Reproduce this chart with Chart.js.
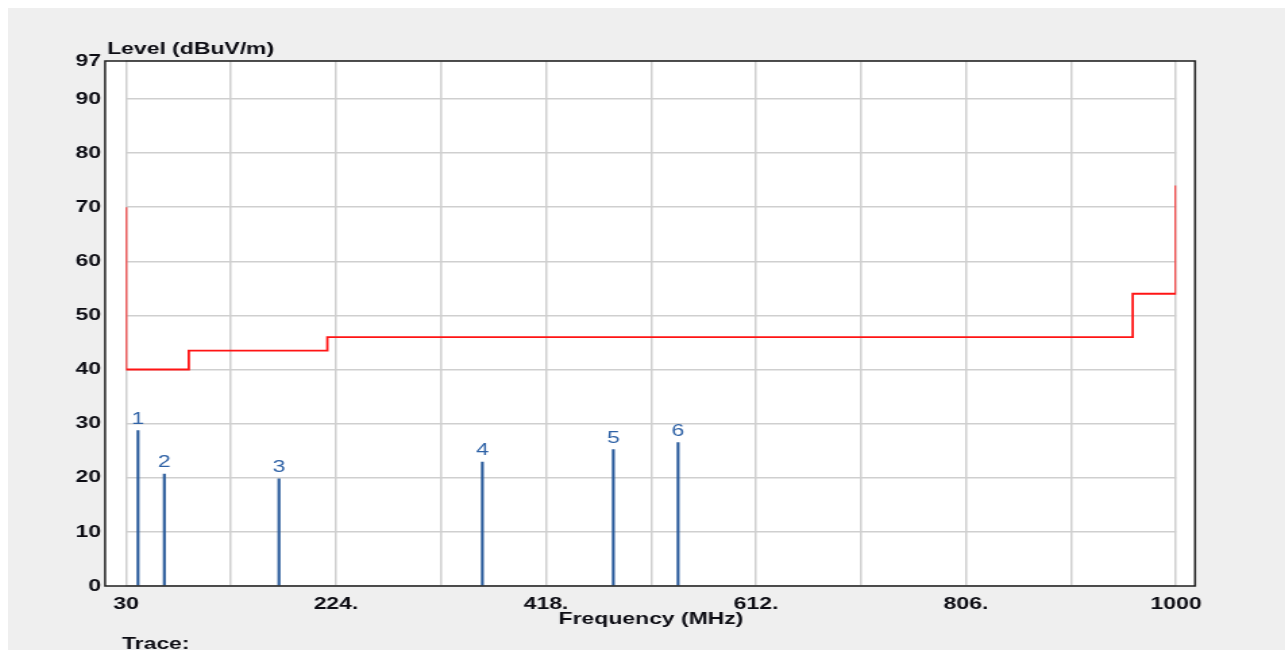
<!DOCTYPE html>
<html>
<head>
<meta charset="utf-8">
<script src="https://cdn.jsdelivr.net/npm/chart.js@4/dist/chart.umd.min.js"></script>
<style>
  html, body { margin: 0; padding: 0; background: #ffffff; }
  #wrap { position: absolute; left: 8px; top: 8px; width: 1277px; height: 642px; background: #efefef; overflow: hidden; }
  #c { position: absolute; left: 0; top: 0; transform: scaleX(1.35); transform-origin: 0 0; }
</style>
</head>
<body>
<div id="wrap"><canvas id="c" width="946" height="642" style="width:946px;height:642px"></canvas></div>
<script>
// ---- data ----
const limitFreq  = [30, 30, 88, 88, 216, 216, 960, 960, 1000, 1000];
const limitLevel = [70, 40, 40, 43.5, 43.5, 46, 46, 54, 54, 74];
const peakFreq   = [41.1, 65.4, 171.3, 359.2, 480.2, 540.0];
const peakLevel  = [28.7, 20.7, 19.8, 22.9, 25.2, 26.5];
const peakLabels = ['1', '2', '3', '4', '5', '6'];
const xTickValues = [30, 127, 224, 321, 418, 515, 612, 709, 806, 903, 1000];
const yTickValues = [0, 10, 20, 30, 40, 50, 60, 70, 80, 90, 97];
const yTitle = 'Level (dBuV/m)';
const xTitle = 'Frequency (MHz)';
const footText = 'Trace:';

const FONT = "'Liberation Sans', Arial, sans-serif";
const TXT = '#0d0d14';

const framePlugin = {
  id: 'frame',
  beforeDraw(chart) {
    const {ctx, chartArea: a} = chart;
    ctx.save();
    ctx.fillStyle = '#ffffff';
    ctx.fillRect(a.left - 15.5, a.top, (a.right + 14.1) - (a.left - 15.5), a.bottom - a.top);
    ctx.restore();
  },
  afterDraw(chart) {
    const {ctx, chartArea: a, scales} = chart;
    ctx.save();
    ctx.strokeStyle = '#1e1e1e';
    ctx.lineWidth = 1.5;
    ctx.strokeRect(a.left - 15.5, a.top, (a.right + 14.1) - (a.left - 15.5), a.bottom - a.top);
    // peak labels
    ctx.fillStyle = '#2f62a6';
    ctx.font = '17px ' + FONT;
    ctx.textAlign = 'center';
    ctx.textBaseline = 'alphabetic';
    peakFreq.forEach((f, i) => {
      const px = scales.x.getPixelForValue(f);
      const py = scales.y.getPixelForValue(peakLevel[i]);
      ctx.fillText(peakLabels[i], px, py - 7);
    });
    // texts
    ctx.fillStyle = TXT;
    ctx.font = 'bold 17px ' + FONT;
    ctx.textAlign = 'left';
    ctx.fillText(yTitle, a.left - 14, 46);
    ctx.textAlign = 'center';
    ctx.fillText(xTitle, (a.left + a.right) / 2, 616);
    ctx.textAlign = 'left';
    ctx.fillText(footText, a.left - 3, 641);
    ctx.restore();
  }
};

new Chart(document.getElementById('c'), {
  type: 'bar',
  data: {
    datasets: [
      {
        type: 'line',
        data: limitFreq.map((f, i) => ({x: f, y: limitLevel[i]})),
        borderColor: '#ff1414',
        borderWidth: 1.8,
        pointRadius: 0,
        fill: false,
        tension: 0,
        order: 1
      },
      {
        type: 'bar',
        data: peakFreq.map((f, i) => ({x: f, y: peakLevel[i]})),
        backgroundColor: '#2b5c9c',
        borderWidth: 0,
        barThickness: 1.5,
        order: 2
      }
    ]
  },
  options: {
    responsive: false,
    animation: false,
    devicePixelRatio: 1,
    layout: { padding: { left: 0, top: 53, right: 80.8, bottom: 0 } },
    plugins: { legend: { display: false }, tooltip: { enabled: false } },
    scales: {
      x: {
        type: 'linear',
        min: 30, max: 1000,
        offset: false,
        afterBuildTicks(scale) { scale.ticks = xTickValues.map(v => ({value: v})); },
        afterFit(scale) { scale.height = 64; },
        grid: { color: '#cfcfcf', lineWidth: 1.5, drawTicks: false, offset: false },
        border: { display: false },
        ticks: {
          autoSkip: false, maxRotation: 0, padding: 8, color: TXT,
          font: { family: FONT, size: 17, weight: 'bold' },
          callback(v, i) {
            if (v === 30 || v === 1000) return String(v);
            return i % 2 === 0 ? v + '.' : '';
          }
        }
      },
      y: {
        type: 'linear',
        min: 0, max: 97,
        afterBuildTicks(scale) { scale.ticks = yTickValues.map(v => ({value: v})); },
        afterFit(scale) { scale.width = 87.4; },
        grid: { color: '#cfcfcf', lineWidth: 1.5, drawTicks: false },
        border: { display: false },
        ticks: {
          autoSkip: false, padding: 18.5, color: TXT,
          font: { family: FONT, size: 17, weight: 'bold' }
        }
      }
    }
  },
  plugins: [framePlugin]
});
</script>
</body>
</html>
